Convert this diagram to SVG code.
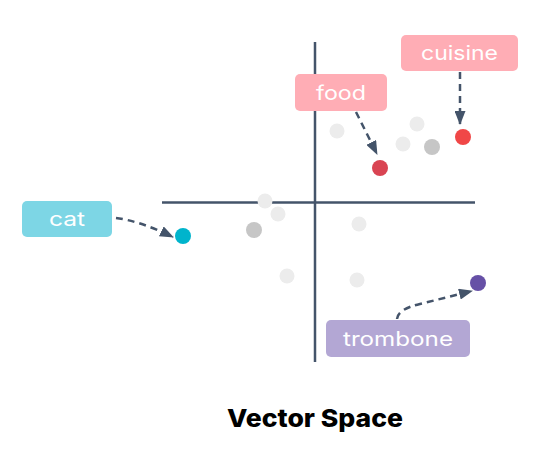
<svg xmlns="http://www.w3.org/2000/svg" width="555" height="467" viewBox="0 0 555 467">
<style>
.axis{stroke:#44546a;stroke-width:2.5;fill:none}
.conn{stroke:#44546a;stroke-width:2.5;fill:none;stroke-dasharray:7 5}
.lbl{font-family:Inter,"Noto Sans",sans-serif;font-size:20px;fill:#ffffff;text-anchor:middle}
.lg{fill:#ececec}
.dg{fill:#c6c6c6}
</style>
<defs>
<marker id="ah" viewBox="0 0 14 11" refX="13" refY="5.5" markerWidth="14" markerHeight="11" markerUnits="userSpaceOnUse" orient="auto">
<path d="M0,0 L14,5.5 L0,11 Z" fill="#44546a"/>
</marker>
</defs>
<rect width="555" height="467" fill="#ffffff"/>
<g id="axes">
<line class="axis" x1="315" y1="42" x2="315" y2="362"/>
<line class="axis" x1="162" y1="202.5" x2="475" y2="202.5"/>
</g>
<g id="points">
<circle class="lg" cx="337" cy="131" r="7.5"/>
<circle class="lg" cx="417" cy="124" r="7.5"/>
<circle class="lg" cx="403" cy="144" r="7.5"/>
<circle class="dg" cx="432" cy="147" r="8"/>
<circle class="lg" cx="265" cy="201" r="7.5"/>
<circle class="lg" cx="278" cy="214" r="7.5"/>
<circle class="dg" cx="254" cy="230" r="8"/>
<circle class="lg" cx="359" cy="224" r="7.5"/>
<circle class="lg" cx="287" cy="276" r="7.5"/>
<circle class="lg" cx="357" cy="280" r="7.5"/>
</g>
<g id="node-food-point"><circle cx="380" cy="168" r="8" fill="#d94452"/></g>
<g id="node-cuisine-point"><circle cx="463" cy="137" r="8" fill="#f04747"/></g>
<g id="node-cat-point"><circle cx="183" cy="236" r="8" fill="#00b4cc"/></g>
<g id="node-trombone-point"><circle cx="478" cy="283" r="8" fill="#6650a6"/></g>
<g id="connectors">
<path class="conn" d="M356,112 L377,154" marker-end="url(#ah)"/>
<path class="conn" d="M460,72 L460,124" marker-end="url(#ah)"/>
<path class="conn" d="M116,218 Q140,221 173,237" marker-end="url(#ah)"/>
<path class="conn" d="M397,319 Q398,309 420,304 L472,291" marker-end="url(#ah)"/>
</g>
<g id="node-cuisine">
<rect x="401" y="35" width="117" height="36" rx="5" fill="#ffadb5"/>
<text class="lbl" x="459.5" y="60" textLength="77" lengthAdjust="spacingAndGlyphs">cuisine</text>
</g>
<g id="node-food">
<rect x="295" y="74" width="92" height="37" rx="5" fill="#ffadb5"/>
<text class="lbl" x="341" y="100" textLength="50" lengthAdjust="spacingAndGlyphs">food</text>
</g>
<g id="node-cat">
<rect x="22" y="201" width="90" height="36" rx="5" fill="#7dd6e5"/>
<text class="lbl" x="67" y="226" textLength="36" lengthAdjust="spacingAndGlyphs">cat</text>
</g>
<g id="node-trombone">
<rect x="326" y="320" width="144" height="37" rx="5" fill="#b3a7d4"/>
<text class="lbl" x="398" y="346" textLength="110" lengthAdjust="spacingAndGlyphs">trombone</text>
</g>
<g id="title">
<text x="315" y="427" font-family="Inter,'Noto Sans',sans-serif" font-size="25" font-weight="800" fill="#000000" text-anchor="middle" textLength="176" lengthAdjust="spacingAndGlyphs">Vector Space</text>
</g>
</svg>
